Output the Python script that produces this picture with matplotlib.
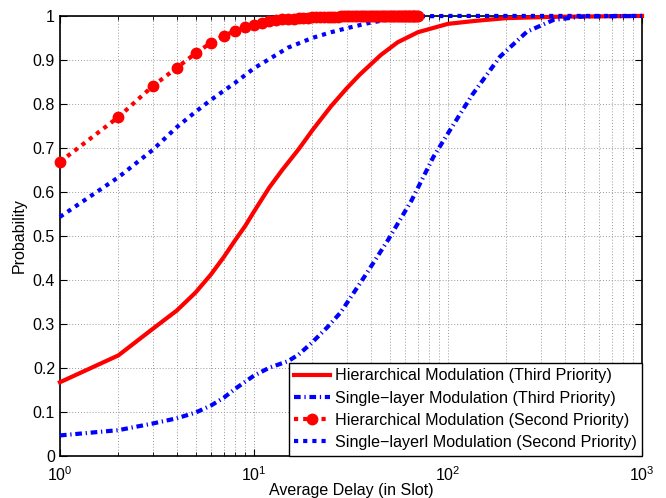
import matplotlib
matplotlib.use("Agg")
import matplotlib.pyplot as plt
from matplotlib.ticker import LogLocator, NullFormatter, FixedLocator

plt.rcParams['font.family'] = ['Liberation Sans', 'DejaVu Sans']
plt.rcParams['mathtext.fontset'] = 'custom'
plt.rcParams['mathtext.rm'] = 'Liberation Sans'

# -------------------------------
# Data
# -------------------------------
hier_third_x = [1, 2, 3, 4, 5, 6, 7, 8, 9, 10, 12, 14, 17, 20, 25, 30, 35, 45, 55, 70,
                100, 140, 200, 350, 1000]
hier_third_y = [0.167, 0.228, 0.288, 0.33, 0.371, 0.412, 0.452, 0.49, 0.522, 0.555,
                0.61, 0.65, 0.697, 0.74, 0.795, 0.835, 0.866, 0.911, 0.94, 0.963,
                0.982, 0.989, 0.995, 0.998, 1.0]

single_third_x = [1, 2, 3, 4, 5, 6, 7, 8, 9, 10, 12, 15, 17, 20, 24, 28, 38, 49, 65, 84,
                  100, 133, 185, 255, 350, 500, 1000]
single_third_y = [0.046, 0.058, 0.073, 0.085, 0.098, 0.114, 0.132, 0.152, 0.168, 0.182,
                  0.2, 0.215, 0.23, 0.258, 0.293, 0.326, 0.414, 0.49, 0.581, 0.679,
                  0.733, 0.82, 0.907, 0.964, 0.991, 0.999, 1.0]

hier_second_x = list(range(1, 71))
hier_second_y = [0.668, 0.77, 0.84, 0.882, 0.915, 0.939, 0.955, 0.966, 0.975, 0.98,
                 0.985, 0.988, 0.99, 0.992, 0.993, 0.994, 0.995, 0.996, 0.996, 0.997,
                 0.997, 0.997, 0.998, 0.998, 0.998, 0.998, 0.998, 0.999, 0.999, 0.999,
                 0.999, 0.999, 0.999, 0.999, 0.999, 0.999, 0.999, 0.999, 0.999, 0.999,
                 1.0, 1.0, 1.0, 1.0, 1.0, 1.0, 1.0, 1.0, 1.0, 1.0,
                 1.0, 1.0, 1.0, 1.0, 1.0, 1.0, 1.0, 1.0, 1.0, 1.0,
                 1.0, 1.0, 1.0, 1.0, 1.0, 1.0, 1.0, 1.0, 1.0, 1.0]

single_second_x = [1, 2, 3, 4, 5, 6, 7, 8, 10, 12, 15, 20, 25, 30, 40, 50, 70, 100,
                   200, 500, 1000]
single_second_y = [0.543, 0.633, 0.695, 0.747, 0.782, 0.809, 0.83, 0.848, 0.881, 0.902,
                   0.928, 0.95, 0.963, 0.972, 0.985, 0.992, 0.999, 1.0, 1.0, 1.0, 1.0]

labels = ["Hierarchical Modulation (Third Priority)",
          "Single\u2212layer Modulation (Third Priority)",
          "Hierarchical Modulation (Second Priority)",
          "Single\u2212layerl Modulation (Second Priority)"]

y_ticks = [0, 0.1, 0.2, 0.3, 0.4, 0.5, 0.6, 0.7, 0.8, 0.9, 1]
y_tick_labels = ["0", "0.1", "0.2", "0.3", "0.4", "0.5", "0.6", "0.7", "0.8", "0.9", "1"]

# -------------------------------
# Figure
# -------------------------------
fig = plt.figure(figsize=(6.66, 4.98), dpi=100)
ax = fig.add_axes([0.090, 0.085, 0.874, 0.883])

ax.plot(hier_third_x, hier_third_y, color='red', lw=3, ls='-',
        label=labels[0], clip_on=False, zorder=3)
ax.plot(single_third_x, single_third_y, color='blue', lw=3,
        dashes=(1.6, 0.9, 0.3, 0.9), label=labels[1], clip_on=False, zorder=3)
ax.plot(hier_second_x, hier_second_y, color='red', lw=3, ls=(0, (1, 1.2)),
        marker='o', markersize=7.5, label=labels[2], clip_on=False, zorder=4)
ax.plot(single_second_x, single_second_y, color='blue', lw=3, ls=(0, (1, 1.2)),
        label=labels[3], clip_on=False, zorder=3)

ax.set_xscale('log')
ax.set_xlim(1, 1000)
ax.set_ylim(0, 1)
ax.yaxis.set_major_locator(FixedLocator(y_ticks))
ax.set_yticklabels(y_tick_labels)
ax.xaxis.set_major_locator(LogLocator(base=10))
ax.xaxis.set_minor_locator(LogLocator(base=10, subs=range(2, 10)))
ax.xaxis.set_minor_formatter(NullFormatter())

ax.grid(True, which='major', color='#9a9a9a', ls=(0, (1, 2)), lw=0.7)
ax.grid(True, which='minor', axis='x', color='#9a9a9a', ls=(0, (1, 2)), lw=0.7)

ax.tick_params(which='both', direction='in', top=True, right=True, labelsize=11.5)
ax.tick_params(which='major', length=5)
ax.tick_params(which='minor', length=3)
ax.tick_params(axis='x', which='major', pad=7)
for sp in ax.spines.values():
    sp.set_linewidth(1.2)

ax.set_xlabel("Average Delay (in Slot)", fontsize=11.5, labelpad=-1)
ax.set_ylabel("Probability", fontsize=11.5, labelpad=4)

leg = ax.legend(loc='lower right', fontsize=11.6, handlelength=2.2, handletextpad=0.3,
                borderaxespad=0, borderpad=0.35, labelspacing=0.45, fancybox=False,
                framealpha=1, edgecolor='black')
leg.get_frame().set_linewidth(1.0)

fig.savefig("out.png", dpi=100)
